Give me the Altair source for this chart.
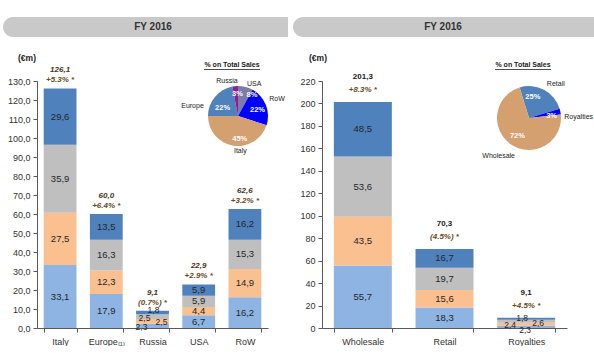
import math
import altair as alt
import pandas as pd

# ---------------- data ----------------
left_categories = ["Italy", "Europe", "Russia", "USA", "RoW"]
left_seg1 = [33.1, 17.9, 2.3, 6.7, 16.2]
left_seg2 = [27.5, 12.3, 2.5, 4.4, 14.9]
left_seg3 = [35.9, 16.3, 2.5, 5.9, 15.3]
left_seg4 = [29.6, 13.5, 1.8, 5.9, 16.2]
left_totals = [126.1, 60.0, 9.1, 22.9, 62.6]
left_growth = ["+5.3% *", "+6.4% *", "(0.7%) *", "+2.9% *", "+3.2% *"]
left_yticks = [0, 10, 20, 30, 40, 50, 60, 70, 80, 90, 100, 110, 120, 130]
left_pie_names = ["USA", "RoW", "Italy", "Europe", "Russia"]
left_pie_pct = [8, 22, 45, 22, 3]

right_categories = ["Wholesale", "Retail", "Royalties"]
right_seg1 = [55.7, 18.3, 2.3]
right_seg2 = [43.5, 15.6, 2.4]
right_seg3 = [53.6, 19.7, 2.6]
right_seg4 = [48.5, 16.7, 1.8]
right_totals = [201.3, 70.3, 9.1]
right_growth = ["+8.3% *", "(4.5%) *", "+4.5% *"]
right_yticks = [0, 20, 40, 60, 80, 100, 120, 140, 160, 180, 200, 220]
right_pie_names = ["Retail", "Royalties", "Wholesale"]
right_pie_pct = [25, 3, 72]

# ---------------- style ----------------
FONT = "Liberation Sans"
SEG_COLORS = ["#8DB4E2", "#FAC090", "#BFBFBF", "#4F81BD"]
PIE_COLORS = {
    "Italy": "#D5A06F", "Europe": "#4F81BD", "Russia": "#8E1F8E",
    "USA": "#7E7BA8", "RoW": "#0000FF",
    "Wholesale": "#D5A06F", "Retail": "#4F81BD", "Royalties": "#0000FF",
}
AXIS_COL = "#595959"
LABEL_COL = "#333333"
BROWN = "#6B4A1C"


def bar_frame(cats, segs):
    rows = []
    for i, c in enumerate(cats):
        for s, arr in enumerate(segs):
            rows.append({"cat": c, "seg": s, "v": arr[i]})
    return pd.DataFrame(rows)


def panel(cats, segs, totals, growth, yticks, ymax, width, height, ylabel_expr,
          xlabel_expr, nudges, pie_names, pie_pct, lay):
    df = bar_frame(cats, segs)
    tot_df = pd.DataFrame({"cat": cats, "total": totals, "growth": growth})

    x_enc = alt.X("cat:N", sort=cats,
                  scale=alt.Scale(paddingInner=0.29, paddingOuter=0.145),
                  axis=alt.Axis(title=None, labelAngle=0, tickBand="extent",
                                domainColor=AXIS_COL, tickColor=AXIS_COL, tickSize=4,
                                labelFont=FONT, labelFontSize=9, labelColor=LABEL_COL,
                                labelPadding=5, labelExpr=xlabel_expr))
    y_scale = alt.Scale(domain=[0, ymax], nice=False, zero=True)
    y_axis = alt.Axis(title=None, values=yticks, grid=False, domainColor=AXIS_COL,
                      tickColor=AXIS_COL, tickSize=4, labelFont=FONT, labelFontSize=9,
                      labelColor=LABEL_COL, labelPadding=3, labelExpr=ylabel_expr)

    base = alt.Chart(df).transform_stack(
        stack="v", groupby=["cat"], sort=[alt.SortField("seg", order="ascending")],
        as_=["v0", "v1"]
    ).transform_calculate(
        mid="(datum.v0 + datum.v1) / 2",
        lab="replace(format(datum.v, '.1f'), '.', ',')",
    )

    bars = base.mark_bar().encode(
        x=x_enc,
        y=alt.Y("v0:Q", scale=y_scale, axis=y_axis),
        y2="v1:Q",
        color=alt.Color("seg:N", scale=alt.Scale(domain=[0, 1, 2, 3], range=SEG_COLORS),
                        legend=None),
    )

    small = list(nudges.keys())
    small_expr = " && ".join([f"datum.cat != '{c}'" for c in small]) or "true"
    seg_text = base.transform_filter(small_expr).mark_text(
        font=FONT, fontSize=9.5, color="#262626", baseline="middle"
    ).encode(x=x_enc, y=alt.Y("mid:Q", scale=y_scale, axis=y_axis), text="lab:N")

    layers = [bars, seg_text]
    for c, offs in nudges.items():
        for s, (dx, dy) in enumerate(offs):
            layers.append(
                base.transform_filter(f"datum.cat == '{c}' && datum.seg == {s}").mark_text(
                    font=FONT, fontSize=8.5, color="#262626", baseline="middle", dx=dx, dy=dy
                ).encode(x=x_enc, y=alt.Y("mid:Q", scale=y_scale, axis=y_axis), text="lab:N")
            )

    tot_base = alt.Chart(tot_df).transform_calculate(
        totlab="replace(format(datum.total, '.1f'), '.', ',')"
    )
    layers.append(tot_base.mark_text(
        font=FONT, fontSize=8, fontWeight="bold", fontStyle=lay["tot_style"],
        color=lay["tot_color"], dy=lay["tot_dy"], baseline="middle"
    ).encode(x=x_enc, y=alt.Y("total:Q", scale=y_scale, axis=y_axis), text="totlab:N"))
    layers.append(tot_base.mark_text(
        font=FONT, fontSize=8, fontWeight="bold", fontStyle="italic",
        color=BROWN, dy=lay["gr_dy"], baseline="middle"
    ).encode(x=x_enc, y=alt.Y("total:Q", scale=y_scale, axis=y_axis), text="growth:N"))

    # header, unit, pie title
    one = pd.DataFrame({"t": ["FY 2016"], "u": ["(€m)"], "p": ["% on Total Sales"]})
    layers.append(alt.Chart(one).mark_rect(
        color="#C9C9C9", cornerRadiusTopLeft=10, cornerRadiusBottomLeft=10,
    ).encode(x=alt.value(lay["hdr_x1"]), x2=alt.value(lay["hdr_x2"]),
             y=alt.value(-64), y2=alt.value(-44)))
    layers.append(alt.Chart(one).mark_text(
        font=FONT, fontSize=10, fontWeight="bold", color="#333333"
    ).encode(x=alt.value(lay["hdr_tx"]), y=alt.value(-54), text="t:N"))
    layers.append(alt.Chart(one).mark_text(
        font=FONT, fontSize=8.5, fontWeight="bold", color="#222222"
    ).encode(x=alt.value(lay["unit_x"]), y=alt.value(-23), text="u:N"))
    layers.append(alt.Chart(one).mark_text(
        font=FONT, fontSize=7, fontWeight="bold", color="#222222"
    ).encode(x=alt.value(lay["pt_x"]), y=alt.value(-16), text="p:N"))
    layers.append(alt.Chart(one).mark_rule(color="#222222", strokeWidth=0.8).encode(
        x=alt.value(lay["pt_x"] - 28), x2=alt.value(lay["pt_x"] + 28), y=alt.value(-11.5)))

    # pie
    pie_df = pd.DataFrame({"name": pie_names, "pct": pie_pct,
                           "idx": list(range(len(pie_names)))})
    pie_df["plab"] = [f"{p}%" for p in pie_pct]
    a0 = math.radians(lay["pie_start"])
    theta = alt.Theta("pct:Q", stack=True, scale=alt.Scale(range=[a0, a0 + 2 * math.pi]))
    cx, cy = alt.value(lay["pie_cx"]), alt.value(lay["pie_cy"])
    pie_base = alt.Chart(pie_df)
    layers.append(pie_base.mark_arc(radius=lay["pie_r"]).encode(
        theta=theta, order=alt.Order("idx:Q"),
        color=alt.Color("name:N", scale=alt.Scale(domain=pie_names,
                                                  range=[PIE_COLORS[n] for n in pie_names]),
                        legend=None),
        x=cx, y=cy))

    def pie_label(name, field, spec, **style):
        align, r, dx, dy = spec
        return pie_base.mark_text(radius=r, align=align, dx=dx, dy=dy,
                                  baseline="middle", font=FONT, **style).encode(
            theta=theta, order=alt.Order("idx:Q"), detail="name:N", x=cx, y=cy,
            text=alt.condition(f"datum.name == '{name}'", alt.Text(f"{field}:N"),
                               alt.value("")))

    for n in pie_names:
        layers.append(pie_label(n, "plab", lay["inner"][n], fontSize=7.5,
                                fontWeight="bold", color="white"))
        layers.append(pie_label(n, "name", lay["outer"][n], fontSize=7, color="#222222"))

    return alt.layer(*layers).resolve_scale(color="independent").properties(
        width=width, height=height)


left = panel(
    left_categories, [left_seg1, left_seg2, left_seg3, left_seg4], left_totals, left_growth,
    left_yticks, 130, 231, 247,
    "replace(format(datum.value, '.1f'), '.', ',')",
    "datum.value == 'Europe' ? 'Europe₍₁₎' : datum.value",
    {"Russia": [(-11, 1), (9, 1), (-8, 1.5), (1, -2)]},
    left_pie_names, left_pie_pct,
    dict(tot_style="italic", tot_color="#4A3516", tot_dy=-18, gr_dy=-8,
         hdr_x1=-34, hdr_x2=251, hdr_tx=116, unit_x=-10, pt_x=195,
         pie_cx=201, pie_cy=35, pie_r=30, pie_start=0,
         inner={"USA": ("left", 22, 3, 0), "RoW": ("center", 21, 0, 2),
                "Italy": ("center", 21, 5, 2), "Europe": ("center", 20, 0, 5),
                "Russia": ("right", 22, 7, 0)},
         outer={"USA": ("left", 36, 0, 3), "RoW": ("center", 42, 0, -2),
                "Italy": ("center", 36, 8, -1), "Europe": ("right", 34, -8, 12),
                "Russia": ("right", 36, 3, 1)}),
)

right = panel(
    right_categories, [right_seg1, right_seg2, right_seg3, right_seg4], right_totals,
    right_growth, right_yticks, 220, 245, 247,
    "format(datum.value, 'd')",
    "datum.value",
    {"Royalties": [(-1, 3), (-16, 1), (12, 2), (-4, -1)]},
    right_pie_names, right_pie_pct,
    dict(tot_style="normal", tot_color="#1A1A1A", tot_dy=-25, gr_dy=-12,
         hdr_x1=-29, hdr_x2=272, hdr_tx=121, unit_x=-4, pt_x=201,
         pie_cx=207, pie_cy=37, pie_r=32, pie_start=-17,
         inner={"Retail": ("center", 21, -6, -2), "Royalties": ("center", 22, 1, 2),
                "Wholesale": ("center", 21, 0, 0)},
         outer={"Retail": ("left", 38, 0, 0), "Royalties": ("left", 36, 0, 6),
                "Wholesale": ("center", 46, -5, 0)}),
)

chart = alt.hconcat(left, right, spacing=5).properties(
    padding={"left": 3, "top": 17, "right": 0, "bottom": 0},
    background="white",
).configure_view(stroke=None)

chart.save("out.html", embed_options={"renderer": "svg", "actions": False})
